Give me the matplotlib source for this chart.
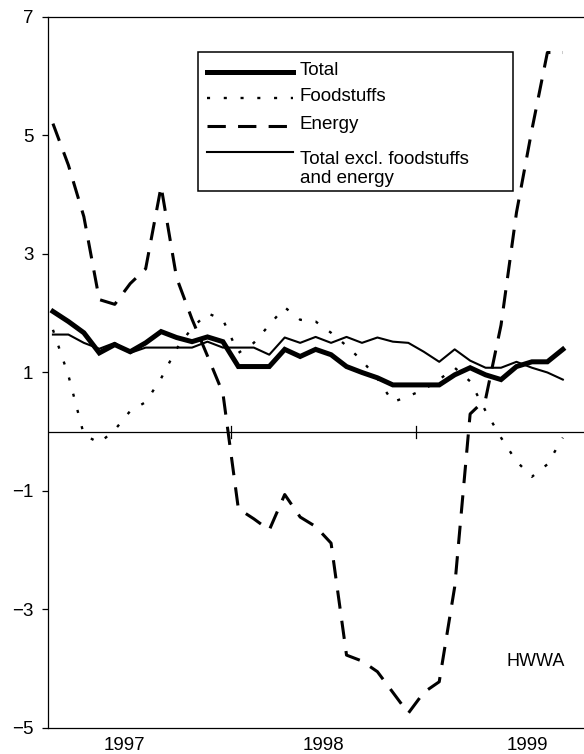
import numpy as np
import matplotlib
matplotlib.use("Agg")
import matplotlib.pyplot as plt
from matplotlib.patches import Rectangle

plt.rcParams['font.family'] = ['Liberation Sans', 'DejaVu Sans']

# monthly rates, Jan 1997 .. Oct 1999
months = np.arange(34)
total = [2.03, 1.86, 1.67, 1.33, 1.47, 1.35, 1.5, 1.69, 1.59, 1.52, 1.6, 1.52,
         1.1, 1.1, 1.1, 1.39, 1.27, 1.39, 1.3, 1.1, 1.0, 0.91, 0.79, 0.79,
         0.79, 0.79, 0.96, 1.08, 0.96, 0.88, 1.1, 1.18, 1.18, 1.39]
foodstuffs = [1.72, 0.95, -0.05, -0.19, 0.03, 0.35, 0.5, 0.9, 1.4, 1.75, 2.0, 1.89,
              1.33, 1.5, 1.8, 2.1, 1.89, 1.86, 1.67, 1.45, 1.2, 0.9, 0.5, 0.6,
              0.71, 0.88, 1.08, 0.85, 0.35, -0.1, -0.5, -0.76, -0.55, -0.1]
energy = [5.2, 4.5, 3.63, 2.23, 2.15, 2.5, 2.75, 4.14, 2.6, 1.9, 1.28, 0.65,
          -1.3, -1.47, -1.66, -1.06, -1.44, -1.6, -1.88, -3.77, -3.87, -4.05, -4.4, -4.75,
          -4.4, -4.22, -2.62, 0.3, 0.55, 1.8, 3.7, 5.1, 6.4, 6.4]
core = [1.64, 1.64, 1.5, 1.4, 1.5, 1.33, 1.42, 1.42, 1.42, 1.42, 1.52, 1.42,
        1.42, 1.42, 1.3, 1.59, 1.5, 1.6, 1.5, 1.6, 1.5, 1.59, 1.52, 1.5,
        1.35, 1.18, 1.39, 1.2, 1.08, 1.08, 1.18, 1.08, 1.0, 0.88]

series_labels = ['Total', 'Foodstuffs', 'Energy', 'Total excl. foodstuffs\nand energy']
year_labels = ['1997', '1998', '1999']
year_label_pos = [4.6, 17.5, 30.7]
year_breaks = [11.5, 23.5]
y_ticks = [-5, -3, -1, 1, 3, 5, 7]

styles = [dict(lw=3.6, solid_joinstyle='miter'),
          dict(lw=1.7, dashes=(1.3, 5.8)),
          dict(lw=2.2, dashes=(6, 4)),
          dict(lw=1.5)]

fig = plt.figure(figsize=(5.84, 7.54), dpi=100)
ax = fig.add_axes([0.0822, 0.0345, 0.9178, 0.943])

ax.axhline(0, color='black', lw=0.9)
for values, st in zip([total, foodstuffs, energy, core], styles):
    ax.plot(months, values, color='black', **st)

# small marks at the turn of the year on the zero line
for xb in year_breaks:
    ax.plot([xb, xb], [-0.1, 0.1], color='black', lw=0.9)

ax.set_xlim(-0.32, 34.37)
ax.set_ylim(-5, 7)
ax.set_yticks(y_ticks)
ax.set_xticks(year_label_pos)
ax.set_xticklabels(year_labels)
ax.tick_params(axis='y', length=4.5, width=0.9, pad=6, labelsize=13.5)
ax.tick_params(axis='x', length=0, pad=6.5, labelsize=13.5)
ax.spines['right'].set_visible(False)
for s in ['left', 'top', 'bottom']:
    ax.spines[s].set_linewidth(0.9)

# legend box drawn by hand, handle aligned with the first line of each label
ax.add_patch(Rectangle((0.28, 0.7553), 0.5875, 0.1955, transform=ax.transAxes,
                       facecolor='white', edgecolor='black', lw=1.1, zorder=5))
row_y = [0.9226, 0.8861, 0.8467, 0.8101]
for label, st, ry in zip(series_labels, styles, row_y):
    ax.plot([0.2966, 0.4571], [ry, ry], transform=ax.transAxes, color='black',
            zorder=6, **st)
    ax.text(0.4701, ry + 0.002, label, transform=ax.transAxes, ha='left',
            va='top' if '\n' in label else 'center', fontsize=13.5, zorder=6,
            linespacing=1.15)

ax.text(0.909, 0.093, 'HWWA', transform=ax.transAxes, ha='center', va='center', fontsize=13)

fig.savefig('out.png', dpi=100)
